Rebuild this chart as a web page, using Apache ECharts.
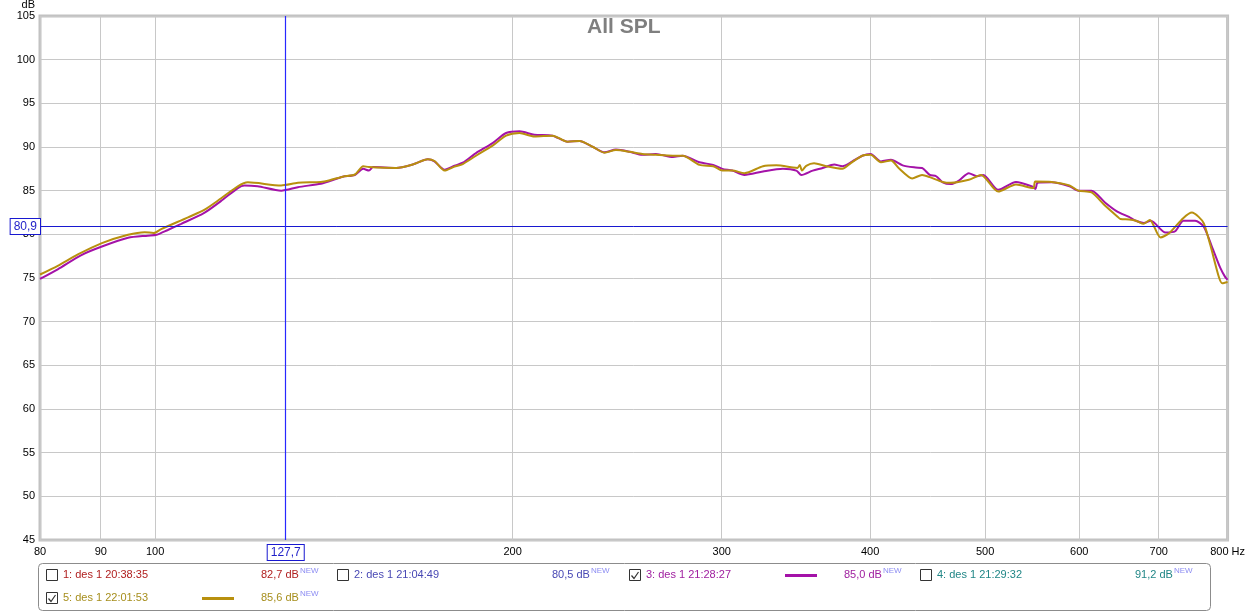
<!DOCTYPE html>
<html><head><meta charset="utf-8">
<script src="https://cdn.jsdelivr.net/npm/echarts@6/dist/echarts.min.js"></script>
<style>html,body{margin:0;padding:0;background:#fff}#c{width:1248px;height:613px}</style>
</head><body><div id="c"></div>
<script>
// ---------- data ----------
const xTickFreqs = [80, 90, 100, 200, 300, 400, 500, 600, 700, 800];
const yMin = 45, yMax = 105, yStep = 5;
const titleText = 'All SPL';

// series 3 (purple)
const freq3 = [80,82.8,86.6,90.2,94.9,98.6,100.3,102.5,105.2,110,113.6,117.4,118.9,122,127.7,131.9,137.9,140.3,143.9,147.3,149.7,151.4,152.6,159.6,164.8,169.7,171.9,175.3,178.7,181.6,186.3,192.4,197.5,202.7,208.6,216.1,222.5,227.7,233.8,239,244.4,251,257.2,264,272.9,278.1,287.4,295.1,300.4,306.2,313.5,325,337.8,346.7,350.1,357.9,364.9,373.1,379.1,386.5,394,400.4,408.5,416.5,426.1,436.9,442.4,449.1,454.7,460.5,467.7,475.2,484.4,492,498.2,512.8,530.8,547.1,551.2,553.5,568.8,588.8,599,614.6,630.7,646,660.8,669.6,680,689.4,709.3,722.7,734.4,751.2,763.7,776,788.8,796.4,800];
const spl3 = [74.9,76.0,77.6,78.6,79.6,79.85,79.95,80.5,81.2,82.45,83.8,85.3,85.6,85.5,85.0,85.4,85.8,86.1,86.6,86.8,87.5,87.3,87.7,87.6,88.0,88.6,88.35,87.4,87.85,88.2,89.3,90.45,91.6,91.8,91.4,91.3,90.6,90.7,90.0,89.4,89.7,89.45,89.1,89.2,88.85,89.0,88.25,87.95,87.5,87.3,86.8,87.2,87.5,87.3,86.8,87.3,87.6,88.0,87.8,88.35,89.0,89.2,88.35,88.55,87.9,87.65,87.6,86.8,86.65,85.95,85.75,86.15,87.0,86.65,86.8,85.1,86.0,85.5,85.2,85.9,85.95,85.5,85.0,85.0,83.65,82.6,82.0,81.55,81.3,81.55,80.2,80.35,81.55,81.55,80.9,78.6,76.15,75.1,74.8];

// series 5 (gold)
const freq5 = [80,82.8,86.1,90.2,94.9,98,99.7,101.2,106.6,110,113.6,117.4,119.7,127.7,131.9,137.9,140.3,143.9,147.3,149.7,151.4,159.6,164.8,169.7,171.9,175.3,178.7,181.6,186.3,192.4,197.5,202.7,208.6,216.1,222.5,227.7,233.8,239,244.4,251,257.2,264,272.9,278.1,287.4,295.1,300.4,306.2,313.5,325,333.5,344.5,347.5,349,350.5,353.4,358.8,367.4,379.1,385.3,394,400.4,408.5,416.5,423.4,434,442.4,449.1,460.5,467.7,484.4,496,512.8,530.8,549,551,568.8,588.8,599,614.6,630.7,646,650,661,670,680,688,702.4,713.8,734,746.6,756.4,764,773.6,786.5,791.8,800];
const spl5 = [75.4,76.4,77.7,79.0,79.95,80.25,80.15,80.6,81.95,82.8,84.1,85.5,85.95,85.6,85.9,86.0,86.2,86.6,86.85,87.8,87.7,87.6,88.0,88.6,88.4,87.3,87.75,88.05,89.0,90.15,91.3,91.6,91.2,91.3,90.6,90.7,90.0,89.35,89.65,89.45,89.2,89.1,89.0,89.0,87.95,87.8,87.3,87.3,87.0,87.8,87.9,87.65,87.6,87.95,87.3,87.85,88.15,87.8,87.5,88.15,89.0,89.1,88.25,88.45,87.5,86.4,86.8,86.55,86.0,85.9,86.25,86.8,84.9,85.7,85.3,86.05,86.0,85.6,85.0,84.8,83.3,82.05,81.75,81.7,81.55,81.2,81.65,79.65,80.1,81.85,82.5,82.0,81.25,78.8,75.15,74.4,74.55];

// cursor
const cursorFreq = 127.7;
const cursorDb = 80.9;

// legend
const legendNames = ['1: des 1 20:38:35', '2: des 1 21:04:49', '3: des 1 21:28:27', '4: des 1 21:29:32', '5: des 1 22:01:53'];
const legendValues = ['82,7', '80,5', '85,0', '91,2', '85,6'];
const legendChecked = [false, false, true, false, true];

// ---------- styles / layout ----------
const FONT = '"Liberation Sans", Arial, sans-serif';
const legendColors = ['#b01e1e', '#4848b4', '#a020a0', '#208686', '#a68e1c'];
const lineColor3 = '#a412a8';
const lineColor5 = '#b8900e';
const cursorColor = '#1818d0';
const slotX = [46, 337, 629, 920, 46];
const slotY = [575, 575, 575, 575, 598];
const legendLineColor = [null, null, lineColor3, null, lineColor5];

const lg = Math.log10;
const toPts = (fs, vs) => fs.map((f, i) => [lg(f), vs[i]]);
const fmtComma = v => v.toFixed(1).replace('.', ',');

const graphics = [];
graphics.push({ type: 'text', style: { text: 'dB', x: 35, y: 5, align: 'right', verticalAlign: 'middle', fill: '#000', fontSize: 11, fontFamily: FONT } });
graphics.push({ type: 'rect', shape: { x: 38.5, y: 563.5, width: 1172, height: 47, r: 4 }, style: { fill: '#fff', stroke: '#8c8c8c', lineWidth: 1 }, z: 1 });
legendNames.forEach((name, i) => {
  const x = slotX[i], y = slotY[i];
  graphics.push({ type: 'rect', shape: { x: x + 0.5, y: y - 5.5, width: 11, height: 11 }, style: { fill: '#fff', stroke: '#333', lineWidth: 1 }, z: 2 });
  if (legendChecked[i]) {
    graphics.push({ type: 'polyline', shape: { points: [[x + 2.5, y + 0.5], [x + 5, y + 3.5], [x + 9.5, y - 3]] }, style: { stroke: '#333', lineWidth: 1.2, fill: null }, z: 3 });
  }
  graphics.push({ type: 'text', style: { text: name, x: x + 17, y: y, verticalAlign: 'middle', fill: legendColors[i], fontSize: 11, fontFamily: FONT }, z: 3 });
  if (legendLineColor[i]) {
    graphics.push({ type: 'line', shape: { x1: x + 156, y1: y + 0.5, x2: x + 188, y2: y + 0.5 }, style: { stroke: legendLineColor[i], lineWidth: 3 }, z: 3 });
  }
  graphics.push({ type: 'text', style: { text: legendValues[i] + ' dB', x: x + 215, y: y, verticalAlign: 'middle', fill: legendColors[i], fontSize: 11, fontFamily: FONT }, z: 3 });
  graphics.push({ type: 'text', style: { text: 'NEW', x: x + 254, y: y - 4, verticalAlign: 'middle', fill: '#8c8cf2', fontSize: 8, fontFamily: FONT }, z: 3 });
});

const cursorLabel = (txt, dist) => ({ show: true, position: 'start', distance: dist, formatter: txt, color: '#1e1ec8', backgroundColor: '#fff', borderColor: cursorColor, borderWidth: 1, padding: [2, 3, 1, 3], fontSize: 12, fontFamily: FONT });
const cursorLine = { color: cursorColor, width: 1, type: 'solid', opacity: 1 };
const cursorLineV = { color: '#2828ff', width: 1.2, type: 'solid', opacity: 1 };

const chart = echarts.init(document.getElementById('c'), null, { renderer: 'canvas' });
chart.setOption({
  animation: false,
  backgroundColor: '#fff',
  title: { text: titleText, left: 587, top: 17, padding: 0, textStyle: { fontSize: 21, fontWeight: 'bold', color: '#7f7f7f', fontFamily: FONT } },
  grid: { left: 40, right: 19, top: 16, bottom: 73, show: true, borderColor: '#c2c2c2', borderWidth: 3, backgroundColor: 'transparent' },
  xAxis: {
    type: 'value', min: lg(xTickFreqs[0]), max: lg(xTickFreqs[xTickFreqs.length - 1]),
    axisLine: { show: false },
    axisTick: { show: false, customValues: xTickFreqs.map(lg) },
    axisLabel: {
      customValues: xTickFreqs.map(lg), margin: 6, color: '#000', fontSize: 11, fontFamily: FONT,
      formatter: v => { const f = Math.round(Math.pow(10, v)); return f === xTickFreqs[xTickFreqs.length - 1] ? f + ' Hz' : String(f); }
    },
    splitLine: { show: true, lineStyle: { color: '#c8c8c8', width: 1 } }
  },
  yAxis: {
    type: 'value', min: yMin, max: yMax, interval: yStep,
    axisLine: { show: false }, axisTick: { show: false },
    axisLabel: { margin: 5, color: '#000', fontSize: 11, fontFamily: FONT },
    splitLine: { show: true, lineStyle: { color: '#c8c8c8', width: 1 } }
  },
  series: [
    {
      name: legendNames[2], type: 'line', data: toPts(freq3, spl3), showSymbol: false, smooth: 0.25,
      lineStyle: { color: lineColor3, width: 2 }, itemStyle: { color: lineColor3 }, z: 3,
      markLine: {
        silent: true, symbol: ['none', 'none'], animation: false,
        lineStyle: cursorLine,
        data: [
          { yAxis: cursorDb, lineStyle: cursorLine, label: cursorLabel(fmtComma(cursorDb), 0) }
        ]
      }
    },
    {
      name: legendNames[4], type: 'line', data: toPts(freq5, spl5), showSymbol: false, smooth: 0.25,
      lineStyle: { color: lineColor5, width: 2 }, itemStyle: { color: lineColor5 }, z: 4,
      markLine: {
        silent: true, symbol: ['none', 'none'], animation: false,
        lineStyle: cursorLineV,
        data: [
          { xAxis: lg(cursorFreq), lineStyle: cursorLineV, label: cursorLabel(fmtComma(cursorFreq), 5) }
        ]
      }
    }
  ],
  graphic: graphics
});
</script>
</body></html>
